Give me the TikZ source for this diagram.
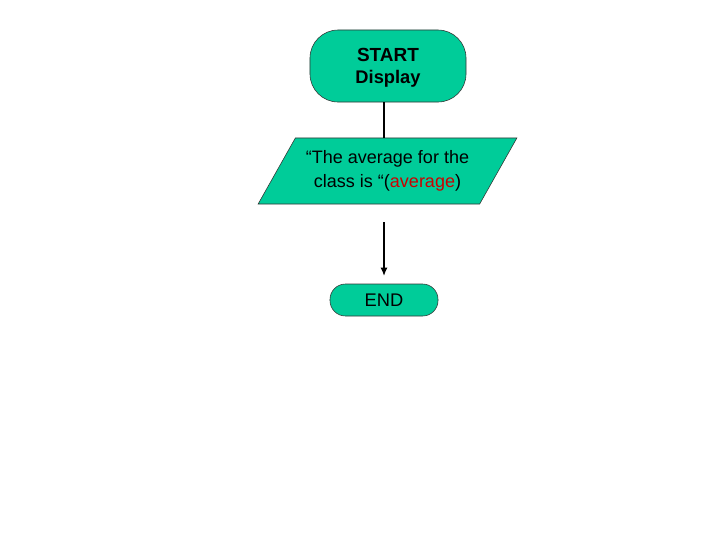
\documentclass[tikz,border=0pt]{standalone}
\usepackage{fontspec}
\setmainfont{Liberation Sans}
\usetikzlibrary{arrows.meta,shapes.geometric}
\definecolor{flowgreen}{RGB}{0,204,153}

\begin{document}
\begin{tikzpicture}[x=0.025cm,y=-0.025cm,>={Latex[length=6pt,width=5pt]},
  terminal/.style={draw=black!80,fill=flowgreen,rounded corners=#1,inner sep=0pt,align=center,font=\fontsize{13}{16}\selectfont},
  io/.style={draw=black!80,fill=flowgreen,trapezium,trapezium left angle=51,trapezium right angle=129,trapezium stretches=true,inner sep=0pt,align=center,font=\fontsize{12.8}{17}\selectfont}]

\useasboundingbox (0,0) rectangle (720,540);

\node[terminal=20pt,minimum width=3.9cm,minimum height=1.8cm,text depth=-4pt] (start) at (388,66) {\fontsize{13.5}{16}\bfseries START\\\bfseries Display};
\node[io,minimum width=6.475cm,minimum height=1.65cm] (disp) at (387.5,171) {\raisebox{-2pt}{``The average for the}\\\raisebox{-2pt}{class is ``(\textcolor{red!80!black}{average})}};
\node[terminal=11pt,minimum width=2.7cm,minimum height=0.8cm] (end) at (384,300) {END};

\coordinate (gap) at (384,222);
\coordinate (tip) at (384,276);

\draw[line width=1pt] (start.south -| end) -- (disp.north -| end);
\draw[->,line width=1pt] (gap) -- (tip);

\end{tikzpicture}
\end{document}
